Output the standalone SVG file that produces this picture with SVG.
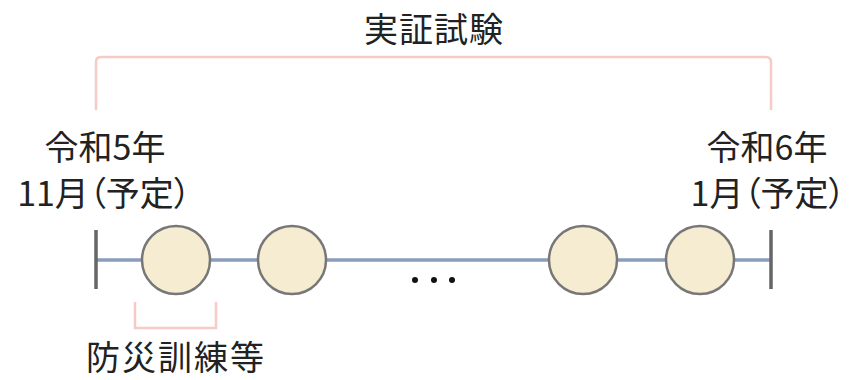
<svg xmlns="http://www.w3.org/2000/svg" width="852" height="380" viewBox="0 0 852 380">
<style>
text{font-family:"Noto Sans CJK JP","Noto Sans",sans-serif;font-size:34px;fill:#222;text-anchor:middle;font-feature-settings:"palt"}
.br{fill:none;stroke:#f6cbc5;stroke-width:2.5}
.tl{stroke:#8a9dbd;stroke-width:3.5}
.tk{stroke:#666;stroke-width:3.5}
.nd{fill:#f6ecd2;stroke:#777;stroke-width:2.5}
</style>
<rect width="852" height="380" fill="#fff"/>
<g id="connectors">
<path class="br" d="M96,110 V62 Q96,57 101,57 H766 Q771,57 771,62 V110"/>
<path class="br" d="M135,302 V328 H216 V302"/>
<line class="tl" x1="96" y1="260" x2="771" y2="260"/>
<line class="tk" x1="96" y1="230" x2="96" y2="289"/>
<line class="tk" x1="771" y1="230" x2="771" y2="289"/>
</g>
<g id="n1"><circle class="nd" cx="176" cy="260" r="34"/></g>
<g id="n2"><circle class="nd" cx="292" cy="260" r="34"/></g>
<g id="n3"><circle class="nd" cx="583" cy="260" r="34"/></g>
<g id="n4"><circle class="nd" cx="700" cy="260" r="34"/></g>
<g id="dots" fill="#111"><circle cx="415" cy="280" r="3"/><circle cx="434" cy="280" r="3"/><circle cx="452" cy="280" r="3"/></g>
<g id="labels">
<text x="434" y="42" letter-spacing="1">実証試験</text>
<text x="105" y="160">令和5年</text>
<text x="104" y="206">11月（予定）</text>
<text x="767" y="160">令和6年</text>
<text x="768" y="206">1月（予定）</text>
<text x="176" y="370" font-size="33" letter-spacing="2">防災訓練等</text>
</g>
</svg>
